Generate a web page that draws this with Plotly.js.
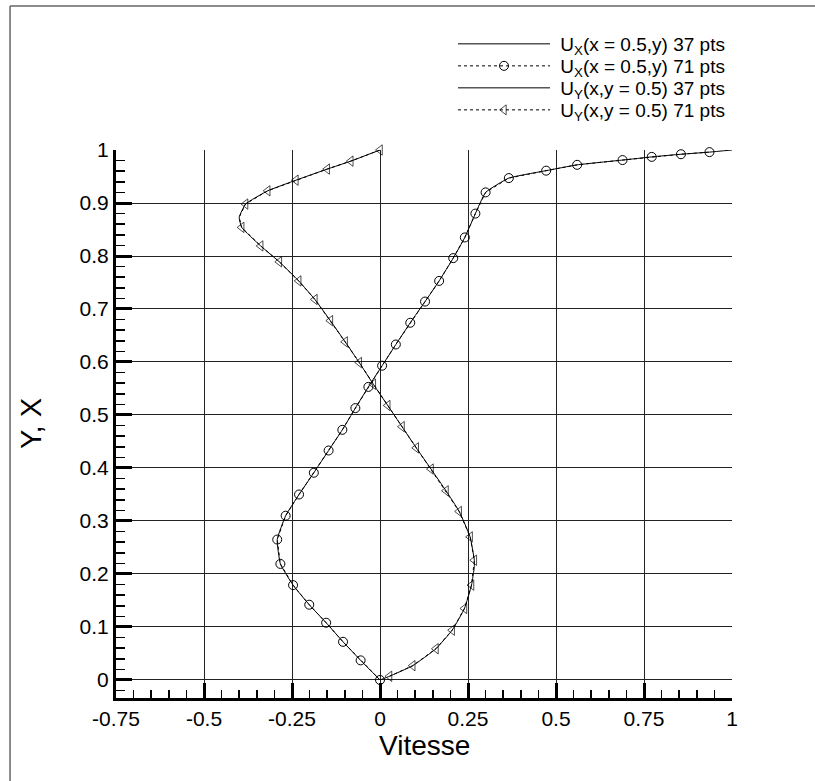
<!DOCTYPE html>
<html>
<head>
<meta charset="utf-8">
<script src="https://cdn.plot.ly/plotly-3.0.1.min.js"></script>
<style>
html,body{margin:0;padding:0;background:#fff;}
#chart{width:815px;height:781px;}
</style>
</head>
<body>
<div id="chart"></div>
<script>
// U_x(x=0.5, y) : velocity values and y positions (37 pts line)
const ux37_u = [0, -0.055, -0.105, -0.153, -0.201, -0.247, -0.283, -0.292, -0.268, -0.230, -0.188, -0.146, -0.107, -0.070, -0.033, 0.006, 0.045, 0.086, 0.128, 0.168, 0.208, 0.241, 0.271, 0.300, 0.366, 0.472, 0.560, 0.689, 0.772, 0.855, 0.936, 1.0];
const ux37_y = [0, 0.037, 0.072, 0.108, 0.142, 0.179, 0.219, 0.265, 0.310, 0.350, 0.391, 0.433, 0.472, 0.513, 0.553, 0.593, 0.633, 0.674, 0.714, 0.753, 0.796, 0.835, 0.880, 0.920, 0.947, 0.961, 0.972, 0.981, 0.987, 0.992, 0.996, 1.0];
// U_x(x=0.5, y) 71 pts (symbols)
const ux71_u = [0, -0.055, -0.105, -0.153, -0.201, -0.247, -0.283, -0.292, -0.268, -0.230, -0.188, -0.146, -0.107, -0.070, -0.033, 0.006, 0.045, 0.086, 0.128, 0.168, 0.208, 0.241, 0.271, 0.300, 0.366, 0.472, 0.560, 0.689, 0.772, 0.855, 0.936];
const ux71_y = [0, 0.037, 0.072, 0.108, 0.142, 0.179, 0.219, 0.265, 0.310, 0.350, 0.391, 0.433, 0.472, 0.513, 0.553, 0.593, 0.633, 0.674, 0.714, 0.753, 0.796, 0.835, 0.880, 0.920, 0.947, 0.961, 0.972, 0.981, 0.987, 0.992, 0.996];
// U_y(x, y=0.5) 37 pts line
const uy37_v = [0, -0.083, -0.150, -0.239, -0.319, -0.382, -0.400, -0.393, -0.339, -0.286, -0.231, -0.185, -0.141, -0.099, -0.059, -0.019, 0.022, 0.0625, 0.103, 0.145, 0.1875, 0.225, 0.256, 0.268, 0.268, 0.260, 0.240, 0.205, 0.159, 0.093, 0.027, 0];
const uy37_x = [1.0, 0.979, 0.964, 0.943, 0.923, 0.898, 0.873, 0.854, 0.819, 0.789, 0.753, 0.718, 0.678, 0.638, 0.599, 0.558, 0.518, 0.478, 0.438, 0.398, 0.357, 0.318, 0.270, 0.226, 0.214, 0.179, 0.135, 0.094, 0.059, 0.027, 0.007, 0];
// U_y(x, y=0.5) 71 pts (symbols; one point without symbol at the turn)
const uy71_v = [0, -0.083, -0.150, -0.239, -0.319, -0.382, -0.400, -0.393, -0.339, -0.286, -0.231, -0.185, -0.141, -0.099, -0.059, -0.019, 0.022, 0.0625, 0.103, 0.145, 0.1875, 0.225, 0.256, 0.268, 0.260, 0.240, 0.205, 0.159, 0.093, 0.027];
const uy71_x = [1.0, 0.979, 0.964, 0.943, 0.923, 0.898, 0.873, 0.854, 0.819, 0.789, 0.753, 0.718, 0.678, 0.638, 0.599, 0.558, 0.518, 0.478, 0.438, 0.398, 0.357, 0.318, 0.270, 0.226, 0.179, 0.135, 0.094, 0.059, 0.027, 0.007];
const uy71_noSymbolIndex = 6;

const names = [
  'U<sub>X</sub>(x = 0.5,y) 37 pts',
  'U<sub>X</sub>(x = 0.5,y) 71 pts',
  'U<sub>Y</sub>(x,y = 0.5) 37 pts',
  'U<sub>Y</sub>(x,y = 0.5) 71 pts'
];
const xTitle = 'Vitesse';
const yTitle = 'Y, X';
const xTickVals = [-0.75, -0.5, -0.25, 0, 0.25, 0.5, 0.75, 1];
const xTickText = ['-0.75', '-0.5', '-0.25', '0', '0.25', '0.5', '0.75', '1'];
const yTickVals = [0, 0.1, 0.2, 0.3, 0.4, 0.5, 0.6, 0.7, 0.8, 0.9, 1];
const yTickText = ['0', '0.1', '0.2', '0.3', '0.4', '0.5', '0.6', '0.7', '0.8', '0.9', '1'];

const FONT = 'Arial, "Liberation Sans", sans-serif';
const MSIZE = 9;
const uy71_sizes = uy71_v.map((v, i) => (i === uy71_noSymbolIndex ? 0 : MSIZE));
const pad = '\u00a0';

const traces = [
  {x: ux71_u, y: ux71_y, name: pad + names[1], legend: 'legend2', mode: 'lines+markers', type: 'scatter',
   line: {color: '#000', width: 1, dash: 'dot'},
   marker: {symbol: 'circle-open', size: MSIZE, color: '#000', line: {width: 1}}, cliponaxis: false},
  {x: uy71_v, y: uy71_x, name: pad + names[3], legend: 'legend4', mode: 'lines+markers', type: 'scatter',
   line: {color: '#000', width: 1, dash: 'dot'},
   marker: {symbol: 'triangle-left-open', size: uy71_sizes, color: '#000', line: {width: 1}}, cliponaxis: false},
  {x: ux37_u, y: ux37_y, name: pad + names[0], legend: 'legend', mode: 'lines', type: 'scatter',
   line: {color: '#000', width: 1, shape: 'spline', smoothing: 0.4}, cliponaxis: false},
  {x: uy37_v, y: uy37_x, name: pad + names[2], legend: 'legend3', mode: 'lines', type: 'scatter',
   line: {color: '#000', width: 1, shape: 'spline', smoothing: 0.4}, cliponaxis: false}
];

const legRowsPx = [44, 66, 88, 110];
function legendAt(rowPx) {
  return {
    x: (453 - 116) / 616, y: (698 - rowPx) / 548, xanchor: 'left', yanchor: 'middle',
    font: {family: FONT, size: 19, color: '#000'},
    bgcolor: 'rgba(0,0,0,0)', borderwidth: 0, itemwidth: 92
  };
}

const layout = {
  width: 815, height: 781,
  margin: {l: 116, r: 83, t: 150, b: 83},
  paper_bgcolor: '#fff', plot_bgcolor: '#fff',
  font: {family: FONT, color: '#000', size: 21},
  showlegend: true,
  legend: legendAt(legRowsPx[0]),
  legend2: legendAt(legRowsPx[1]),
  legend3: legendAt(legRowsPx[2]),
  legend4: legendAt(legRowsPx[3]),
  xaxis: {
    range: [-0.75, 1], autorange: false,
    tickmode: 'array', tickvals: xTickVals, ticktext: xTickText,
    showline: true, linecolor: '#000', linewidth: 3,
    ticks: 'inside', ticklen: 15, tickwidth: 3, tickcolor: '#000',
    showgrid: true, gridcolor: '#222', gridwidth: 1,
    zeroline: false,
    minor: {dtick: 0.05, tick0: 0, ticks: 'inside', ticklen: 8, tickwidth: 1.5, tickcolor: '#000', showgrid: false},
    tickfont: {family: FONT, size: 21, color: '#000'}
  },
  yaxis: {
    range: [-0.034, 1], autorange: false,
    tickmode: 'array', tickvals: yTickVals, ticktext: yTickText,
    showline: true, linecolor: '#000', linewidth: 3,
    ticks: 'inside', ticklen: 16, tickwidth: 3, tickcolor: '#000',
    showgrid: true, gridcolor: '#222', gridwidth: 1,
    zeroline: false,
    minor: {dtick: 0.02, tick0: 0, ticks: 'inside', ticklen: 9, tickwidth: 1.5, tickcolor: '#000', showgrid: false},
    tickfont: {family: FONT, size: 21, color: '#000'}
  },
  annotations: [
    {text: xTitle, xref: 'paper', yref: 'paper', x: 0.5, y: (698 - 746) / 548,
     xanchor: 'center', yanchor: 'middle', showarrow: false,
     font: {family: FONT, size: 28, color: '#000'}},
    {text: yTitle, xref: 'paper', yref: 'paper', x: (31 - 116) / 616, y: 0.5,
     xanchor: 'center', yanchor: 'middle', showarrow: false, textangle: -90,
     font: {family: FONT, size: 29, color: '#000'}}
  ],
  shapes: [
    {type: 'line', xref: 'paper', yref: 'paper', x0: -0.172, x1: -0.172, y0: 1.2628, y1: -0.3,
     line: {color: '#666', width: 1.5}},
    {type: 'line', xref: 'paper', yref: 'paper', x0: -0.172, x1: 1.3, y0: 1.2628, y1: 1.2628,
     line: {color: '#666', width: 1.5}}
  ]
};

Plotly.newPlot('chart', traces, layout, {displayModeBar: false, staticPlot: true});
</script>
</body>
</html>
